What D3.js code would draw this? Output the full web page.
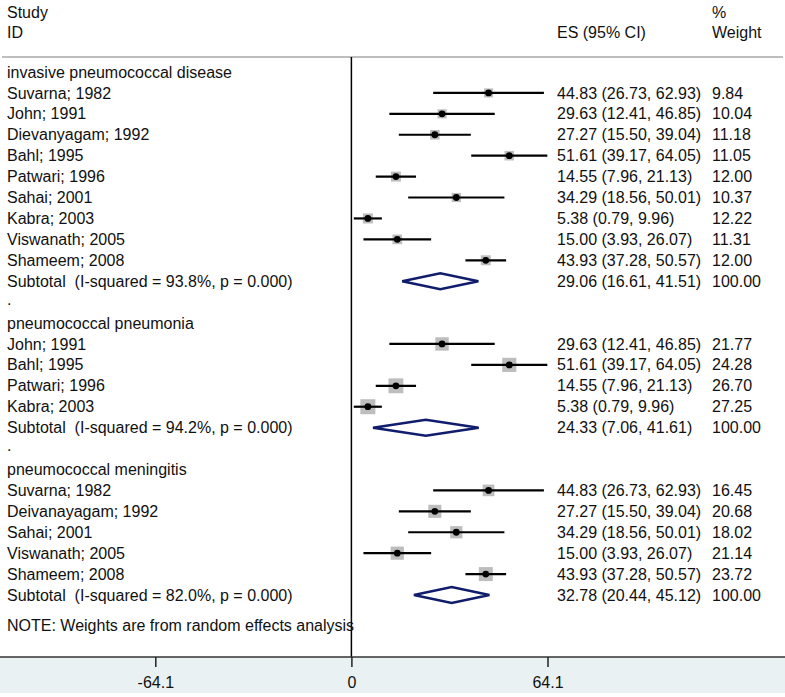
<html>
<head>
  <meta charset="utf-8">
  <script src="https://d3js.org/d3.v7.min.js"></script>
  <style>
    body { margin: 0; background: #fff; }
    svg text { font-family: "Liberation Sans", Arial, sans-serif; font-size: 16px; fill: #111; white-space: pre; }
  </style>
</head>
<body>
<svg id="chart"></svg>
<script>
  // group titles
  var groupNames = ["invasive pneumococcal disease", "pneumococcal pneumonia", "pneumococcal meningitis"];

  // invasive pneumococcal disease
  var ipdStudy = ["Suvarna; 1982", "John; 1991", "Dievanyagam; 1992", "Bahl; 1995", "Patwari; 1996", "Sahai; 2001", "Kabra; 2003", "Viswanath; 2005", "Shameem; 2008"];
  var ipdES = [44.83, 29.63, 27.27, 51.61, 14.55, 34.29, 5.38, 15.00, 43.93];
  var ipdLow = [26.73, 12.41, 15.50, 39.17, 7.96, 18.56, 0.79, 3.93, 37.28];
  var ipdHigh = [62.93, 46.85, 39.04, 64.05, 21.13, 50.01, 9.96, 26.07, 50.57];
  var ipdWeight = [9.84, 10.04, 11.18, 11.05, 12.00, 10.37, 12.22, 11.31, 12.00];

  // pneumococcal pneumonia
  var pnaStudy = ["John; 1991", "Bahl; 1995", "Patwari; 1996", "Kabra; 2003"];
  var pnaES = [29.63, 51.61, 14.55, 5.38];
  var pnaLow = [12.41, 39.17, 7.96, 0.79];
  var pnaHigh = [46.85, 64.05, 21.13, 9.96];
  var pnaWeight = [21.77, 24.28, 26.70, 27.25];

  // pneumococcal meningitis
  var menStudy = ["Suvarna; 1982", "Deivanayagam; 1992", "Sahai; 2001", "Viswanath; 2005", "Shameem; 2008"];
  var menES = [44.83, 27.27, 34.29, 15.00, 43.93];
  var menLow = [26.73, 15.50, 18.56, 3.93, 37.28];
  var menHigh = [62.93, 39.04, 50.01, 26.07, 50.57];
  var menWeight = [16.45, 20.68, 18.02, 21.14, 23.72];

  // subtotals
  var subLabel = ["Subtotal  (I-squared = 93.8%, p = 0.000)", "Subtotal  (I-squared = 94.2%, p = 0.000)", "Subtotal  (I-squared = 82.0%, p = 0.000)"];
  var subES = [29.06, 24.33, 32.78];
  var subLow = [16.61, 7.06, 20.44];
  var subHigh = [41.51, 41.61, 45.12];

  var tickValues = [-64.1, 0, 64.1];
  var tickLabels = ["-64.1", "0", "64.1"];

  var width = 785, height = 697;
  var svg = d3.select('#chart').attr('width', width).attr('height', height);

  var x = d3.scaleLinear().domain([-64.1, 64.1]).range([155.3, 547.5]);
  var y = d3.scaleLinear().domain([0, 25]).range([72, 595]);
  var box = d3.scaleSqrt().domain([0, 27.25]).range([0, 15]);

  var colLeft = 7, colES = 557, colW = 712;
  var axisY = 657;
  var fmt = d3.format('.2f');

  // build rows
  var rows = [];
  var sets = [
    [ipdStudy, ipdES, ipdLow, ipdHigh, ipdWeight],
    [pnaStudy, pnaES, pnaLow, pnaHigh, pnaWeight],
    [menStudy, menES, menLow, menHigh, menWeight]
  ];
  var r = 0;
  sets.forEach(function (s, g) {
    rows.push({type: 'group', label: groupNames[g], row: r++});
    s[0].forEach(function (name, i) {
      rows.push({type: 'study', label: name, es: s[1][i], lo: s[2][i], hi: s[3][i], w: s[4][i], row: r++});
    });
    rows.push({type: 'sub', label: subLabel[g], es: subES[g], lo: subLow[g], hi: subHigh[g], w: 100, row: r++});
    if (g < sets.length - 1) rows.push({type: 'blank', label: '.', row: r++});
  });

  // bottom band
  svg.append('rect').attr('x', 0).attr('y', axisY).attr('width', width).attr('height', 36).attr('fill', '#eaf1f3');

  // header
  svg.append('text').attr('x', colLeft).attr('y', 12).attr('dy', '0.35em').text('Study');
  svg.append('text').attr('x', colLeft).attr('y', 32).attr('dy', '0.35em').text('ID');
  svg.append('text').attr('x', colES).attr('y', 32).attr('dy', '0.35em').text('ES (95% CI)');
  svg.append('text').attr('x', colW).attr('y', 12).attr('dy', '0.35em').text('%');
  svg.append('text').attr('x', colW).attr('y', 32).attr('dy', '0.35em').text('Weight');

  svg.append('line').attr('x1', 2).attr('x2', 783).attr('y1', 57).attr('y2', 57)
    .attr('stroke', '#a8a8a8').attr('stroke-width', 1.5);

  // null line
  svg.append('line').attr('x1', x(0)).attr('x2', x(0)).attr('y1', 57).attr('y2', axisY)
    .attr('stroke', '#000').attr('stroke-width', 1.5);

  // labels
  svg.selectAll('text.lab').data(rows).enter().append('text')
    .attr('class', 'lab')
    .attr('x', colLeft)
    .attr('y', d => y(d.row) + (d.type === 'blank' ? -3 : 0))
    .attr('dy', '0.35em')
    .text(d => d.label);

  var est = rows.filter(d => d.type === 'study' || d.type === 'sub');
  svg.selectAll('text.es').data(est).enter().append('text')
    .attr('class', 'es').attr('x', colES).attr('y', d => y(d.row)).attr('dy', '0.35em')
    .text(d => fmt(d.es) + ' (' + fmt(d.lo) + ', ' + fmt(d.hi) + ')');
  svg.selectAll('text.wt').data(est).enter().append('text')
    .attr('class', 'wt').attr('x', colW).attr('y', d => y(d.row)).attr('dy', '0.35em')
    .text(d => fmt(d.w));

  // studies
  var studies = rows.filter(d => d.type === 'study');
  svg.selectAll('rect.box').data(studies).enter().append('rect')
    .attr('class', 'box')
    .attr('x', d => x(d.es) - box(d.w) / 2)
    .attr('y', d => y(d.row) - box(d.w) / 2)
    .attr('width', d => box(d.w)).attr('height', d => box(d.w))
    .attr('fill', '#bdbdbd');
  svg.selectAll('line.ci').data(studies).enter().append('line')
    .attr('class', 'ci')
    .attr('x1', d => x(d.lo)).attr('x2', d => x(d.hi))
    .attr('y1', d => y(d.row)).attr('y2', d => y(d.row))
    .attr('stroke', '#000').attr('stroke-width', 2.2);
  svg.selectAll('circle.pt').data(studies).enter().append('circle')
    .attr('class', 'pt')
    .attr('cx', d => x(d.es)).attr('cy', d => y(d.row)).attr('r', 3.4)
    .attr('fill', '#000');

  // subtotal diamonds
  var subs = rows.filter(d => d.type === 'sub');
  svg.selectAll('path.dia').data(subs).enter().append('path')
    .attr('class', 'dia')
    .attr('d', function (d) {
      var cy = y(d.row), h = 8;
      return 'M' + x(d.lo) + ',' + cy + 'L' + x(d.es) + ',' + (cy - h) +
        'L' + x(d.hi) + ',' + cy + 'L' + x(d.es) + ',' + (cy + h) + 'Z';
    })
    .attr('fill', '#fff').attr('stroke', '#101c6c').attr('stroke-width', 2.5);

  // note
  svg.append('text').attr('x', colLeft).attr('y', 625).attr('dy', '0.35em')
    .text('NOTE: Weights are from random effects analysis');

  // axis
  svg.append('line').attr('x1', 0).attr('x2', width).attr('y1', axisY).attr('y2', axisY)
    .attr('stroke', '#333').attr('stroke-width', 1.5);
  var axis = svg.append('g').attr('transform', 'translate(0,' + axisY + ')')
    .call(d3.axisBottom(x).tickValues(tickValues).tickSize(10).tickPadding(10)
      .tickFormat((d, i) => tickLabels[i]));
  axis.select('.domain').remove();
  axis.selectAll('.tick line').attr('stroke', '#222').attr('stroke-width', 1.5);
  axis.selectAll('.tick text').style('font-size', '16px').attr('fill', '#111')
    .style('font-family', '"Liberation Sans", Arial, sans-serif');
</script>
</body>
</html>
